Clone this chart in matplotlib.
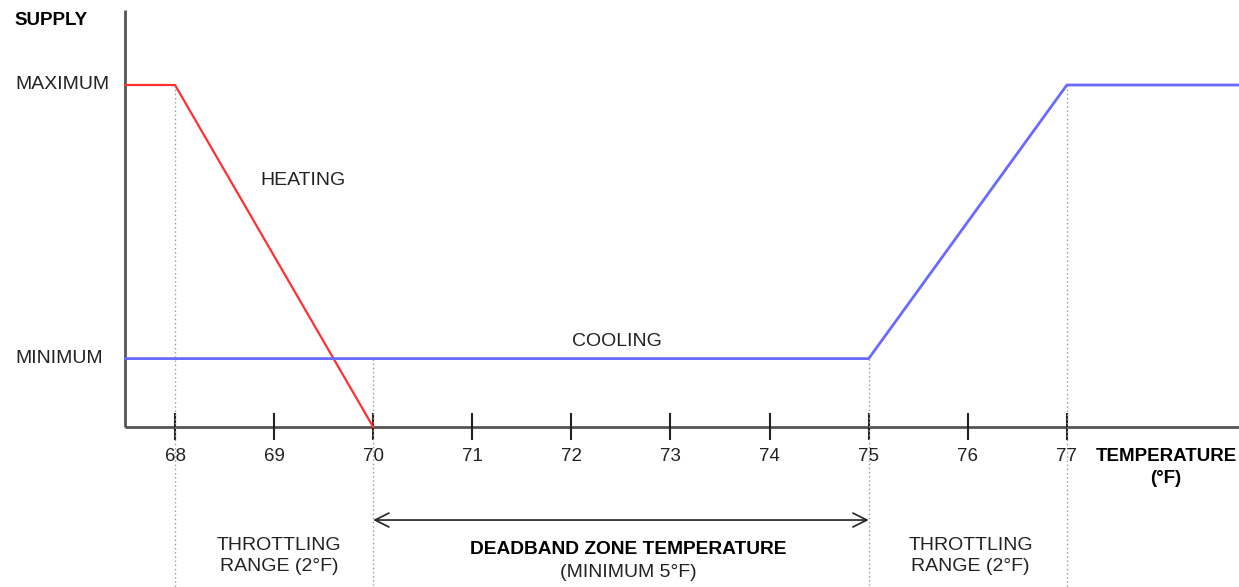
import matplotlib
matplotlib.use('Agg')
import matplotlib.pyplot as plt

plt.rcParams['font.family'] = ['Liberation Sans', 'DejaVu Sans']

# data
temps = [68, 69, 70, 71, 72, 73, 74, 75, 76, 77]
heating_x = [67.5, 68, 70]
heating_y = [1.0, 1.0, 0.0]
cooling_x = [67.5, 75, 77, 78.74]
cooling_y = [0.2, 0.2, 1.0, 1.0]
supply_levels = {'MAXIMUM': 1.0, 'MINIMUM': 0.2}
guide_x = [68, 70, 75, 77]
guide_top = [1.0, 0.2, 0.2, 1.0]

fig = plt.figure(figsize=(12.39, 5.87), dpi=100)
ax = fig.add_axes([0, 0, 1, 1])
ax.set_xlim(66.234, 78.737)
ax.set_ylim(-0.4678, 1.2485)
ax.axis('off')

# axes lines
ax.plot([67.5, 67.5], [0, 1.219], color='#555555', lw=2, solid_capstyle='butt')
ax.plot([67.5, 78.74], [0, 0], color='#555555', lw=2, solid_capstyle='butt')
ax.vlines(temps, -0.038, 0.041, color='#222222', lw=1.5)
for t in temps:
    ax.text(t, -0.085, str(t), ha='center', va='center', fontsize=13.5, color='#222222')

# dotted guides
for gx, gt in zip(guide_x, guide_top):
    ax.plot([gx, gx], [gt, -0.47], color='#999999', lw=1, ls=(0, (1, 2)))

# curves
ax.plot(heating_x, heating_y, color='#ff3030', lw=1.6)
ax.plot(cooling_x, cooling_y, color='#6a6aff', lw=2)

# labels
ax.text(66.385, 1.19, 'SUPPLY', ha='left', va='center', fontsize=13.5, fontweight='bold')
for name, lvl in supply_levels.items():
    ax.text(66.385, lvl, name, ha='left', va='center', fontsize=14, color='#222222')
ax.text(69.29, 0.722, 'HEATING', ha='center', va='center', fontsize=14, color='#222222')
ax.text(72.46, 0.25, 'COOLING', ha='center', va='center', fontsize=14, color='#222222')
ax.text(78.0, -0.085, 'TEMPERATURE', ha='center', va='center', fontsize=13.5, fontweight='bold')
ax.text(78.0, -0.152, '(°F)', ha='center', va='center', fontsize=13.5, fontweight='bold')

# deadband arrow
ax.annotate('', xy=(70, -0.272), xytext=(75, -0.272),
            arrowprops=dict(arrowstyle='<->', color='#222222', lw=1.2,
                            mutation_scale=25, shrinkA=0, shrinkB=0))
ax.text(72.57, -0.357, 'DEADBAND ZONE TEMPERATURE', ha='center', va='center',
        fontsize=13.8, fontweight='bold')
ax.text(72.57, -0.424, '(MINIMUM 5°F)', ha='center', va='center', fontsize=14, color='#222222')
for cx in [69.05, 76.03]:
    ax.text(cx, -0.345, 'THROTTLING', ha='center', va='center', fontsize=14, color='#222222')
    ax.text(cx, -0.409, 'RANGE (2°F)', ha='center', va='center', fontsize=14, color='#222222')

fig.savefig('out.png', dpi=100)
